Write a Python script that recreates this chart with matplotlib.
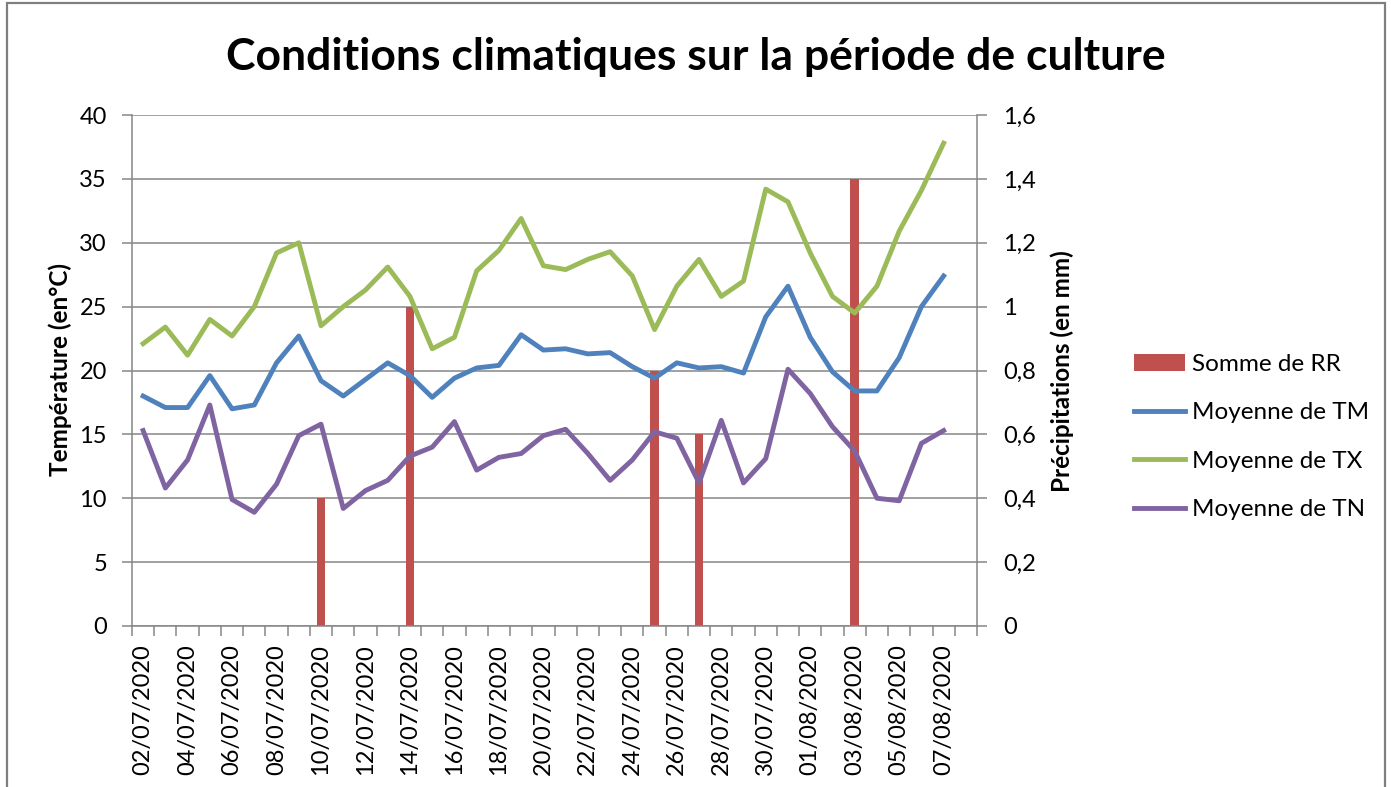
import matplotlib.pyplot as plt
import pandas as pd
from matplotlib.ticker import FuncFormatter
from matplotlib.patches import Rectangle

plt.rcParams['font.family'] = ['Lato', 'DejaVu Sans']

# categories: 02/07 -> 07/08, plus one empty slot at the end (as in the pivot chart)
dates = list(pd.date_range('2020-07-02', '2020-08-07').strftime('%d/%m/%Y')) + ['']

tm = [18.0, 17.1, 17.1, 19.6, 17.0, 17.3, 20.6, 22.7, 19.2, 18.0,
      19.3, 20.6, 19.6, 17.9, 19.4, 20.2, 20.4, 22.8, 21.6, 21.7,
      21.3, 21.4, 20.3, 19.4, 20.6, 20.2, 20.3, 19.8, 24.2, 26.6,
      22.6, 19.9, 18.4, 18.4, 21.0, 25.0, 27.4]
tx = [22.1, 23.4, 21.2, 24.0, 22.7, 25.0, 29.2, 30.0, 23.5, 25.0,
      26.3, 28.1, 25.8, 21.7, 22.6, 27.8, 29.4, 31.9, 28.2, 27.9,
      28.7, 29.3, 27.4, 23.2, 26.6, 28.7, 25.8, 27.0, 34.2, 33.2,
      29.2, 25.8, 24.5, 26.6, 30.9, 34.1, 37.8]
tn = [15.3, 10.8, 13.0, 17.3, 9.9, 8.9, 11.1, 14.9, 15.8, 9.2,
      10.6, 11.4, 13.3, 14.0, 16.0, 12.2, 13.2, 13.5, 14.9, 15.4,
      13.5, 11.4, 13.0, 15.2, 14.7, 11.2, 16.1, 11.2, 13.1, 20.1,
      18.2, 15.6, 13.7, 10.0, 9.8, 14.3, 15.3]

rr_dates = ['10/07/2020', '14/07/2020', '25/07/2020', '27/07/2020', '03/08/2020']
rr = [0.4, 1.0, 0.8, 0.6, 1.4]

gray = '#868686'

fig = plt.figure(figsize=(13.91, 7.87), dpi=100)
fig.patches.append(Rectangle((7/1391, -0.05), (1385-7)/1391, 1.05 - 3/787,
                             transform=fig.transFigure, fill=False,
                             edgecolor='#7f7f7f', linewidth=1.6))

ax = fig.add_axes([132/1391, 1-626/787, (977-132)/1391, (626-115)/787])
ax2 = ax.twinx()

# bars + grid on the secondary axis (drawn underneath the lines)
ax2.set_zorder(1)
ax.set_zorder(2)
ax.patch.set_visible(False)
ax2.patch.set_visible(True)
ax2.patch.set_facecolor('white')

x = list(range(len(tm)))
x_rr = [dates.index(d) for d in rr_dates]
bars = ax2.bar(x_rr, rr, width=0.4, color='#C0504D', zorder=2, label='Somme de RR')
ax2.set_ylim(0, 1.6)
ax2.set_yticks([i * 0.2 for i in range(9)])
ax2.yaxis.set_major_formatter(FuncFormatter(
    lambda v, p: ('%.1f' % v).rstrip('0').rstrip('.').replace('.', ',') if v else '0'))
ax2.grid(axis='y', color=gray, linewidth=1.1, zorder=0)
ax2.set_axisbelow(True)

l1, = ax.plot(x, tm, color='#4F81BD', lw=3.5, label='Moyenne de TM')
l2, = ax.plot(x, tx, color='#9BBB59', lw=3.5, label='Moyenne de TX')
l3, = ax.plot(x, tn, color='#8064A2', lw=3.5, label='Moyenne de TN')
ax.set_ylim(0, 40)
ax.set_yticks(range(0, 41, 5))
ax.set_xlim(-0.5, len(dates) - 0.5)

ax.set_xticks(range(0, len(dates), 2))
ax.set_xticklabels([dates[i] for i in range(0, len(dates), 2)], rotation=90)
ax.set_xticks([i - 0.5 for i in range(len(dates) + 1)], minor=True)
ax.tick_params(axis='x', which='major', length=0, pad=13, labelsize=17)
ax.tick_params(axis='x', which='minor', length=7, width=1.1, color=gray)
ax.tick_params(axis='y', length=7, width=1.1, color=gray, pad=11, labelsize=17)
ax2.tick_params(axis='y', length=7, width=1.1, color=gray, pad=12, labelsize=17)

for s in ['top', 'right']:
    ax.spines[s].set_visible(False)
for s in ['top', 'left', 'bottom']:
    ax2.spines[s].set_visible(False)
for s in ['left', 'bottom']:
    ax.spines[s].set_color(gray)
    ax.spines[s].set_linewidth(1.1)
ax2.spines['right'].set_color(gray)
ax2.spines['right'].set_linewidth(1.1)

fig.text(60/1391, 1 - 370/787, 'Température (en°C)', rotation=90,
         ha='center', va='center', fontsize=17.5, fontweight='bold')
fig.text(1062/1391, 1 - 371/787, 'Précipitations (en mm)', rotation=90,
         ha='center', va='center', fontsize=17.5, fontweight='bold')

fig.text(0.5, 1 - 57/787, 'Conditions climatiques sur la période de culture',
         ha='center', va='center', fontsize=32, fontweight='bold')

fig.legend([bars, l1, l2, l3],
           ['Somme de RR', 'Moyenne de TM', 'Moyenne de TX', 'Moyenne de TN'],
           loc='center left', bbox_to_anchor=(1112/1391, 1 - 437/787),
           frameon=False, fontsize=17.5, handlelength=2.1, handletextpad=0.3,
           labelspacing=1.13)

fig.savefig('out.png', dpi=100)
